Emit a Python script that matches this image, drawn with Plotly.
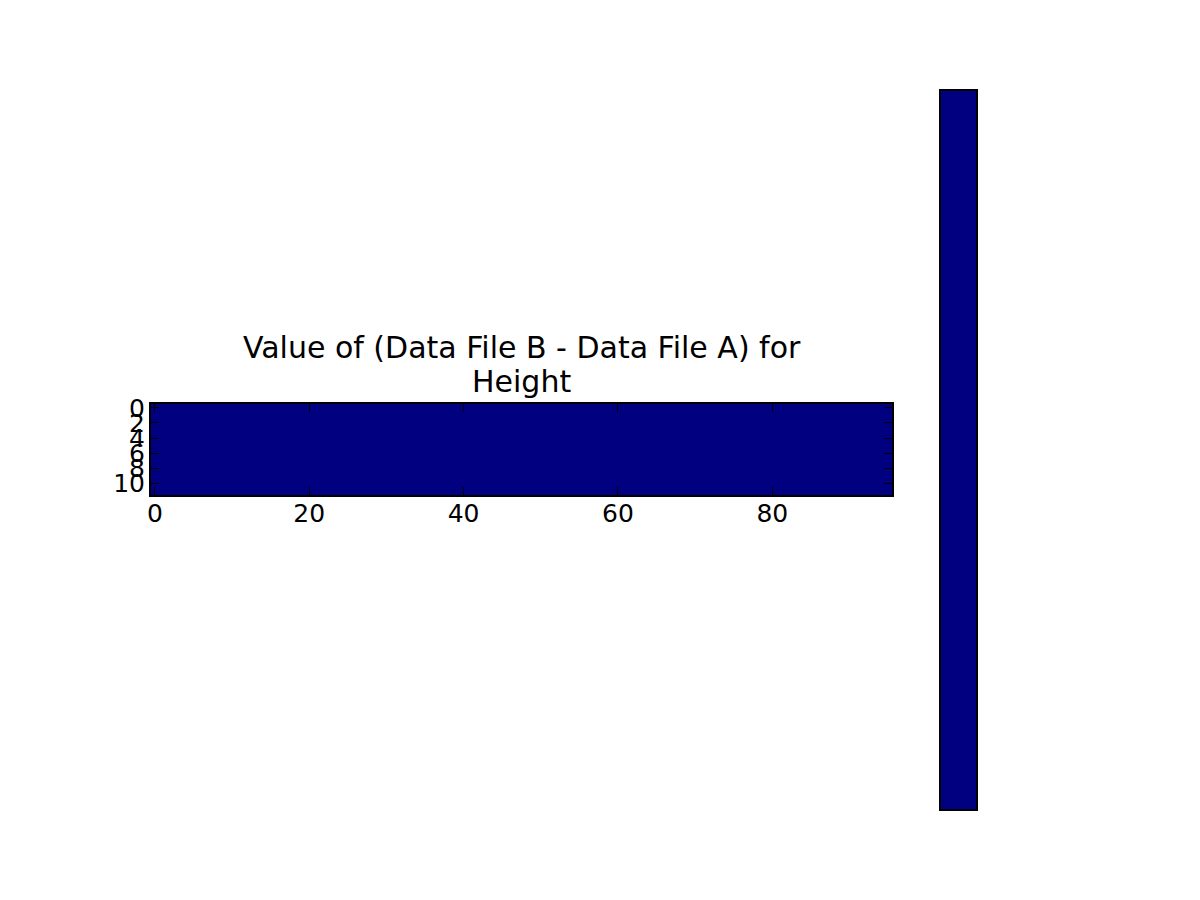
import plotly.graph_objects as go

# Data: difference grid (all values equal, single colour)
n_rows = 12
n_cols = 96
diff_values = [[0.0] * n_cols for _ in range(n_rows)]
colorbar_values = [[0.0]]
x_tick_vals = [0, 20, 40, 60, 80]
y_tick_vals = [0, 2, 4, 6, 8, 10]
title_lines = ["Value of (Data File B - Data File A) for", "Height"]

W, H = 1200, 900
OFF = 8  # page body margin in the browser
# target screen positions (outer edges of outlines)
ax_l, ax_r, ax_t, ax_b = 150 - OFF, 893 - OFF, 403 - OFF, 496 - OFF
cb_l, cb_r, cb_t, cb_b = 940 - OFF, 977 - OFF, 90 - OFF, 810 - OFF
LW = 2

FONT = "DejaVu Sans"
NAVY = [[0, "#000080"], [1, "#000080"]]

fig = go.Figure()
fig.add_trace(go.Heatmap(
    z=diff_values,
    x=list(range(n_cols)),
    y=list(range(n_rows)),
    colorscale=NAVY, zmin=-1, zmax=1,
    showscale=False, hoverinfo="skip",
    xaxis="x", yaxis="y",
))
fig.add_trace(go.Heatmap(
    z=colorbar_values,
    colorscale=NAVY, zmin=-1, zmax=1,
    showscale=False, hoverinfo="skip",
    xaxis="x2", yaxis="y2",
))

axis_common = dict(
    showgrid=False, zeroline=False, automargin=False,
    showline=True, linecolor="black", linewidth=LW,
    mirror="ticks", ticks="inside", ticklen=8, tickwidth=1, tickcolor="black",
    tickfont=dict(family=FONT, size=25, color="black"),
)

fig.update_layout(
    xaxis=dict(
        domain=[(ax_l + 1) / W, (ax_r - 1) / W],
        range=[-0.5, n_cols - 0.5],
        tickvals=x_tick_vals,
        ticktext=[str(v) for v in x_tick_vals],
        ticklabelstandoff=-5,
        **axis_common,
    ),
    yaxis=dict(
        domain=[1 - (ax_b - 1) / H, 1 - (ax_t + 1) / H],
        range=[n_rows - 0.5, -0.5],
        tickvals=y_tick_vals,
        ticktext=[str(v) for v in y_tick_vals],
        ticklabelstandoff=-1,
        **axis_common,
    ),
    xaxis2=dict(
        domain=[(cb_l + 1) / W, (cb_r - 1) / W], anchor="y2",
        range=[-0.4, 0.4], showticklabels=False, ticks="",
        showgrid=False, zeroline=False, automargin=False,
        showline=True, linecolor="black", linewidth=LW, mirror=True,
    ),
    yaxis2=dict(
        domain=[1 - (cb_b - 1) / H, 1 - (cb_t + 1) / H], anchor="x2",
        range=[-0.45, 0.45], showticklabels=False, ticks="",
        showgrid=False, zeroline=False, automargin=False,
        showline=True, linecolor="black", linewidth=LW, mirror=True,
    ),
)

title_bottoms = [367 - OFF, 401 - OFF]
for line, yb in zip(title_lines, title_bottoms):
    fig.add_annotation(
        text=line,
        x=(ax_l + ax_r) / 2 / W, xref="paper",
        y=1 - yb / H, yref="paper",
        xanchor="center", yanchor="bottom",
        showarrow=False,
        font=dict(family=FONT, size=30, color="black"),
    )

fig.update_layout(
    width=W, height=H,
    margin=dict(l=0, r=0, t=0, b=0),
    paper_bgcolor="white", plot_bgcolor="white",
    font=dict(family=FONT, color="black"),
    showlegend=False,
)

fig.write_html("out.html")
